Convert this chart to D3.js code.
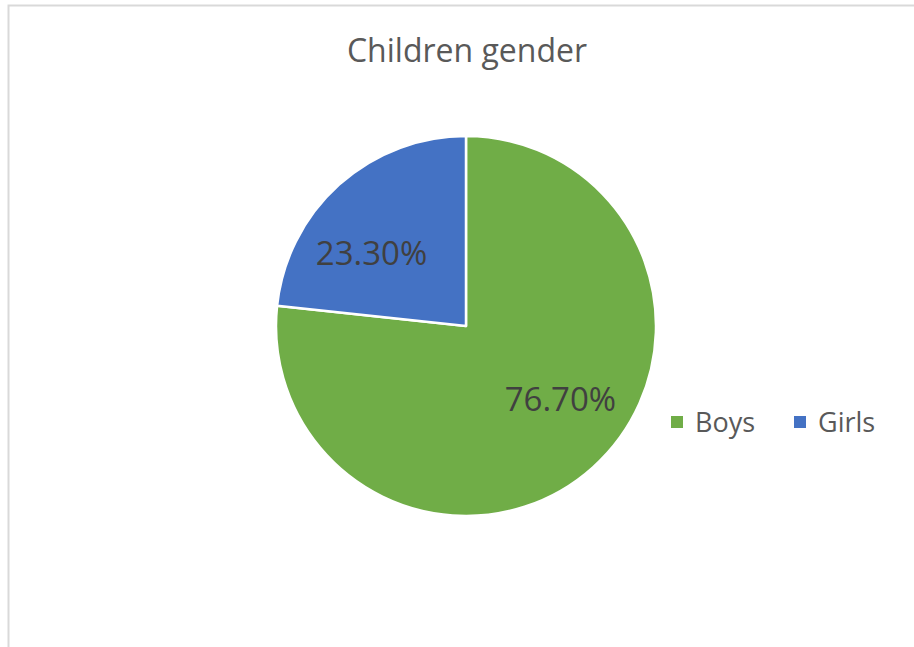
<!DOCTYPE html>
<html>
<head>
<meta charset="utf-8">
<script src="https://cdn.jsdelivr.net/npm/d3@7"></script>
<style>
body { margin: 0; background: #fff; }
svg text { font-family: "Open Sans", sans-serif; }
</style>
</head>
<body>
<script>
var width = 914, height = 647;

var categories = ["Boys", "Girls"];
var shares = [76.7, 23.3];
var labels = ["76.70%", "23.30%"];
var colors = ["#70ad47", "#4472c4"];

var svg = d3.select("body").append("svg")
    .attr("width", width)
    .attr("height", height);

// chart frame (only top and left edges show)
svg.append("rect")
    .attr("x", 8.5).attr("y", 5.5)
    .attr("width", 920).attr("height", 660)
    .attr("fill", "none")
    .attr("stroke", "#d9d9d9")
    .attr("stroke-width", 2);

svg.append("text")
    .attr("x", 467).attr("y", 62)
    .attr("text-anchor", "middle")
    .attr("font-size", 32)
    .attr("fill", "#595959")
    .text("Children gender");

var cx = 466, cy = 326, r = 190;
var g = svg.append("g").attr("transform", "translate(" + cx + "," + cy + ")");

var pie = d3.pie().sort(null).value(function(d) { return d; });
var arc = d3.arc().innerRadius(0).outerRadius(r);

var arcs = pie(shares);

g.selectAll("path")
    .data(arcs)
    .enter()
    .append("path")
    .attr("d", arc)
    .attr("fill", function(d, i) { return colors[i]; })
    .attr("stroke", "#fff")
    .attr("stroke-width", 2.5)
    .attr("stroke-linejoin", "round");

// excel puts the labels a bit anticlockwise of the slice middle
var labelR = r * 0.627, labelTurn = -10.5 * Math.PI / 180;
function labelPos(d) {
    var a = (d.startAngle + d.endAngle) / 2 + labelTurn;
    return [Math.sin(a) * labelR, -Math.cos(a) * labelR];
}

g.selectAll("text.lbl")
    .data(arcs)
    .enter()
    .append("text")
    .attr("class", "lbl")
    .attr("transform", function(d) { return "translate(" + labelPos(d) + ")"; })
    .attr("text-anchor", "middle")
    .attr("dy", "0.36em")
    .attr("font-size", 33)
    .attr("fill", "#404040")
    .text(function(d, i) { return labels[i]; });

var legend = svg.append("g").attr("transform", "translate(671,422)");
var item = legend.selectAll("g")
    .data(categories)
    .enter()
    .append("g")
    .attr("transform", function(d, i) { return "translate(" + (i * 123) + ",0)"; });

item.append("rect")
    .attr("x", 0).attr("y", -6)
    .attr("width", 12).attr("height", 12)
    .attr("fill", function(d, i) { return colors[i]; });

item.append("text")
    .attr("x", 24).attr("y", 10)
    .attr("font-size", 27)
    .attr("fill", "#595959")
    .text(function(d) { return d; });
</script>
</body>
</html>
